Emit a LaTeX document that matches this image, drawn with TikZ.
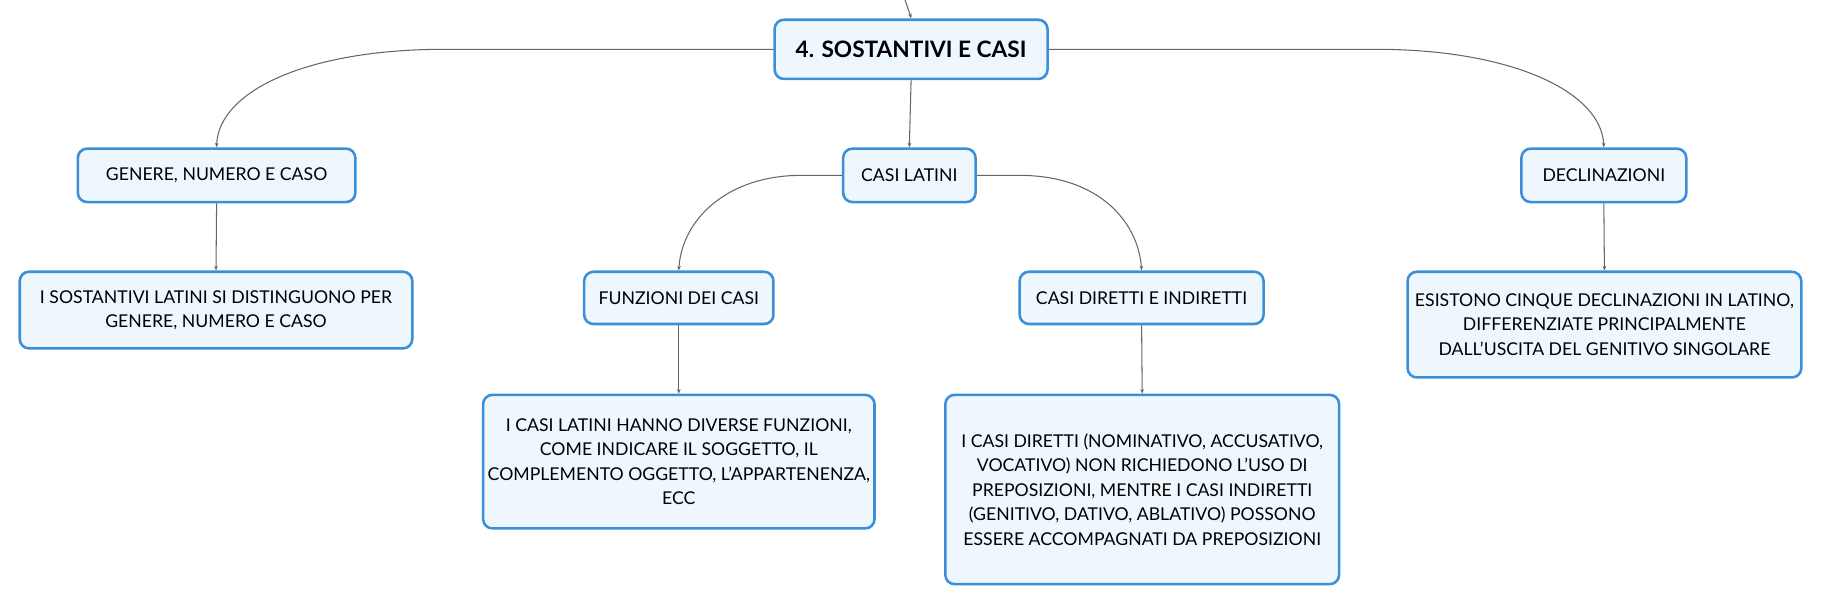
\documentclass[tikz,border=0pt]{standalone}
\usepackage{fontspec}
\setmainfont{Lato}
\usetikzlibrary{arrows.meta}
\definecolor{boxblue}{HTML}{3B8FD9}
\definecolor{boxfill}{HTML}{EFF7FE}
\definecolor{linegray}{HTML}{666666}
\begin{document}
\begin{tikzpicture}[x=1pt,y=-1pt,
  box/.style={draw=boxblue, line width=2.2pt, fill=boxfill, rounded corners=8pt,
    align=center, inner sep=0pt, font=\fontsize{15.2}{21}\selectfont},
  conn/.style={draw=linegray, line width=0.9pt, -{Stealth[length=4pt,width=3.2pt]}},
  plain/.style={draw=linegray, line width=0.9pt}]
\useasboundingbox (0,0) rectangle (1568,521);
\node[box, minimum width=235pt, minimum height=51pt, font=\fontsize{19.5}{21}\bfseries] (root) at (784.5,42.5) {4. SOSTANTIVI E CASI};
\node[box, minimum width=239pt, minimum height=46pt] (gen) at (186.5,151) {GENERE, NUMERO E CASO};
\node[box, minimum width=114pt, minimum height=46pt] (casi) at (783,151) {CASI LATINI};
\node[box, minimum width=142pt, minimum height=46pt] (decl) at (1381,151) {DECLINAZIONI};
\node[box, minimum width=338pt, minimum height=66pt] (sost) at (186,267) {I SOSTANTIVI LATINI SI DISTINGUONO PER\\GENERE, NUMERO E CASO};
\node[box, minimum width=163pt, minimum height=45pt] (funz) at (584.5,256.5) {FUNZIONI DEI CASI};
\node[box, minimum width=210pt, minimum height=45pt] (dir) at (983,256.5) {CASI DIRETTI E INDIRETTI};
\node[box, minimum width=339pt, minimum height=91pt] (esist) at (1381.5,279.5) {ESISTONO CINQUE DECLINAZIONI IN LATINO,\\DIFFERENZIATE PRINCIPALMENTE\\DALL'USCITA DEL GENITIVO SINGOLARE};
\node[box, minimum width=337pt, minimum height=115pt] (latini) at (584.5,397.5) {I CASI LATINI HANNO DIVERSE FUNZIONI,\\COME INDICARE IL SOGGETTO, IL\\COMPLEMENTO OGGETTO, L'APPARTENENZA,\\ECC};
\node[box, minimum width=339pt, minimum height=163pt] (dirbox) at (983.5,421.5) {I CASI DIRETTI (NOMINATIVO, ACCUSATIVO,\\VOCATIVO) NON RICHIEDONO L'USO DI\\PREPOSIZIONI, MENTRE I CASI INDIRETTI\\(GENITIVO, DATIVO, ABLATIVO) POSSONO\\ESSERE ACCOMPAGNATI DA PREPOSIZIONI};
\coordinate (topc) at (779,-1);
\coordinate (lbend) at (375,42.5);
\coordinate (rbend) at (1192,42.5);
\coordinate (clb) at (690,151);
\coordinate (crb) at (878,151);
\draw[conn] (topc) .. controls (782,6) .. (root.north);
\draw[conn] (root.west) -- (lbend) .. controls (260,44) and (188,80) .. (gen.north);
\draw[conn] (root.east) -- (rbend) .. controls (1305,44) and (1379,80) .. (decl.north);
\draw[conn] (root.south) -- (casi.north);
\draw[conn] (casi.west) -- (clb) .. controls (625,151) and (587,190) .. (funz.north);
\draw[conn] (casi.east) -- (crb) .. controls (945,151) and (980,190) .. (dir.north);
\draw[conn] (gen.south) -- (sost.north);
\draw[conn] (funz.south) -- (latini.north);
\draw[conn] (dir.south) -- (dirbox.north);
\draw[conn] (decl.south) -- (esist.north);
\end{tikzpicture}
\end{document}
